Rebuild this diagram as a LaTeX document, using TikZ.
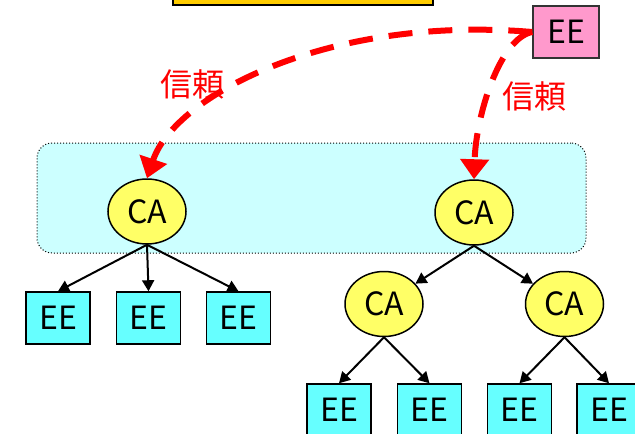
\documentclass[tikz,border=0pt]{standalone}
\usepackage{fontspec}
\setmainfont{Noto Sans CJK JP}
\usetikzlibrary{shapes.geometric,arrows.meta}

\definecolor{caYellow}{HTML}{FFFF66}
\definecolor{eeCyan}{HTML}{66FFFF}
\definecolor{zoneCyan}{HTML}{CCFFFF}
\definecolor{eePink}{HTML}{FF99CC}
\definecolor{rootGold}{HTML}{FFCC00}

\begin{document}
\begin{tikzpicture}[x=1pt,y=-1pt,
  bigfont/.style={font=\fontsize{32}{36}\selectfont},
  ca/.style={ellipse, draw=black, line width=1.5pt, fill=caYellow,
    minimum width=78pt, minimum height=65pt, inner sep=0pt, bigfont},
  ee/.style={rectangle, draw=black, line width=1.5pt, fill=eeCyan,
    minimum width=64pt, minimum height=52pt, inner sep=0pt, bigfont},
  link/.style={-{Triangle[length=11pt,width=12pt]}, line width=2pt, black},
  trust/.style={red, line width=6pt, dash pattern=on 24pt off 16pt,
    -{Triangle[length=20pt,width=28pt]}},
  trustlabel/.style={text=red, bigfont, inner sep=0pt},
]
\clip (0,0) rectangle (635,434);

% trust domain
\node[rectangle, draw=black, dotted, line width=1pt, fill=zoneCyan,
  rounded corners=15pt, minimum width=549pt, minimum height=110pt]
  (zone) at (311.5,198) {};

% root box at the top edge
\draw[line width=2pt, fill=rootGold] (173,-10) rectangle (433,5);

% end entity outside the hierarchy
\node[ee, fill=eePink, draw=black!80, minimum width=66pt] (eeX) at (566,32) {EE};

% left hierarchy
\node[ca] (caL) at (147,211.5) {CA};
\node[ee] (eeL1) at (58,318) {EE};
\node[ee] (eeL2) at (148.5,318) {EE};
\node[ee] (eeL3) at (238.5,318) {EE};

% right hierarchy
\node[ca] (caR) at (474,212.5) {CA};
\node[ca] (caR1) at (384,304) {CA};
\node[ca] (caR2) at (564.5,304) {CA};
\node[ee] (eeR1) at (339,410) {EE};
\node[ee] (eeR2) at (429.5,410) {EE};
\node[ee] (eeR3) at (519.5,410) {EE};
\node[ee] (eeR4) at (609,410) {EE};

% certification links
\draw[link] (caL.south) -- (eeL1.north);
\draw[link] (caL.south) -- (eeL2.north);
\draw[link] (caL.south) -- (eeL3.north);
\draw[link] (caR.south) -- (caR1);
\draw[link] (caR.south) -- (caR2);
\draw[link] (caR1.south) -- (eeR1.north);
\draw[link] (caR1.south) -- (eeR2.north);
\draw[link] (caR2.south) -- (eeR3.north);
\draw[link] (caR2.south) -- (eeR4.north);

% trust relations
\draw[trust] (eeX.west) .. controls (330,15) and (175,95) .. (caL.north);
\draw[trust] (eeX.west) .. controls (500,38) and (476,115) .. (caR.north);
\node[trustlabel] (trustL) at (192,84) {信頼};
\node[trustlabel] (trustR) at (534,96) {信頼};
\end{tikzpicture}
\end{document}
